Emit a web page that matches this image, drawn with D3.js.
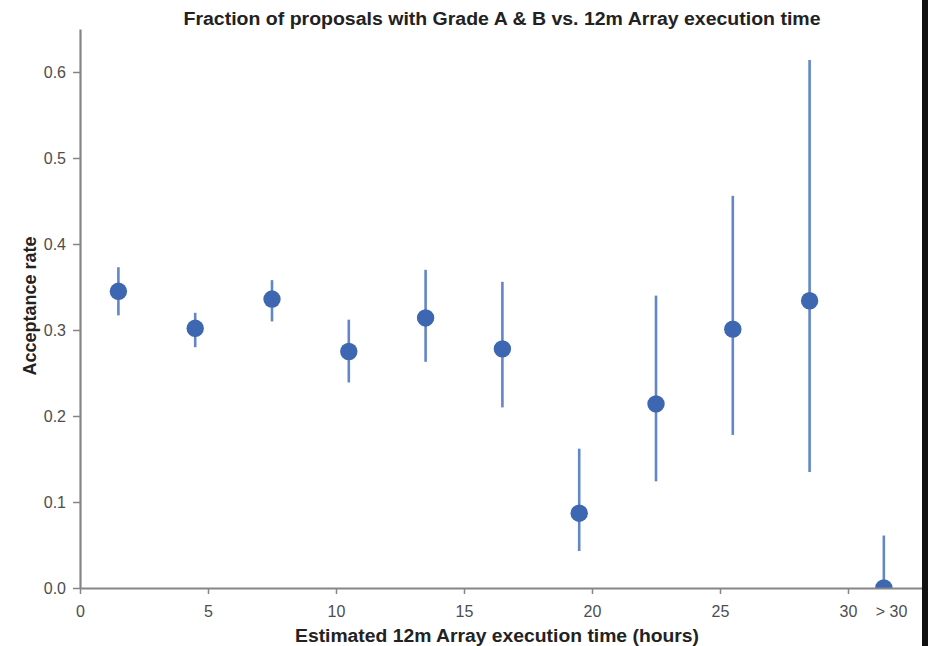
<!DOCTYPE html>
<html>
<head>
<meta charset="utf-8">
<script src="https://cdn.jsdelivr.net/npm/d3@7"></script>
<style>
  body { margin: 0; background: #fff; }
  text { font-family: "Liberation Sans", Arial, sans-serif; }
</style>
</head>
<body>
<svg id="chart" width="928" height="646"></svg>
<script>
// bins of execution time (hours); the last one is the "> 30" bin
var binCenters = [1.5, 4.5, 7.5, 10.5, 13.5, 16.5, 19.5, 22.5, 25.5, 28.5, 31.4];
var rates      = [0.345, 0.302, 0.336, 0.275, 0.314, 0.278, 0.087, 0.214, 0.301, 0.334, 0.0];
var errLow     = [0.317, 0.280, 0.310, 0.239, 0.263, 0.210, 0.043, 0.124, 0.178, 0.135, 0.0];
var errHigh    = [0.373, 0.320, 0.358, 0.312, 0.370, 0.356, 0.162, 0.340, 0.456, 0.614, 0.061];
var xTicks = [0, 5, 10, 15, 20, 25, 30];
var yTicks = [0, 0.1, 0.2, 0.3, 0.4, 0.5, 0.6];
var overflowLabel = { value: 31.7, text: "> 30" };

var svg = d3.select("#chart");
var width = +svg.attr("width"),
    height = +svg.attr("height");

var x = d3.scaleLinear().domain([0, 33]).range([80, 924.8]);
var y = d3.scaleLinear().domain([0, 0.65]).range([588, 29]);

var axisColor = "#858585",
    labelColor = "#4d4d4d",
    dotColor = "#3e67b1",
    barColor = "#6286c8";

// title
svg.append("text")
    .attr("x", 502).attr("y", 25)
    .attr("text-anchor", "middle")
    .attr("font-size", 18).attr("font-weight", "bold")
    .attr("fill", "#222")
    .attr("textLength", 637).attr("lengthAdjust", "spacingAndGlyphs")
    .text("Fraction of proposals with Grade A & B vs. 12m Array execution time");

// points get clipped at the x axis (the >30 dot is only half visible)
svg.append("clipPath").attr("id", "plotclip")
  .append("rect")
    .attr("x", x(0)).attr("y", 0)
    .attr("width", width).attr("height", y(0));

var data = binCenters.map(function(c, i) {
  return { x: c, rate: rates[i], lo: errLow[i], hi: errHigh[i] };
});

var plot = svg.append("g").attr("clip-path", "url(#plotclip)");

plot.selectAll(".err")
    .data(data)
  .enter().append("line")
    .attr("class", "err")
    .attr("x1", function(d) { return x(d.x); })
    .attr("x2", function(d) { return x(d.x); })
    .attr("y1", function(d) { return y(d.lo); })
    .attr("y2", function(d) { return y(d.hi); })
    .attr("stroke", barColor)
    .attr("stroke-width", 2.6);

plot.selectAll(".dot")
    .data(data)
  .enter().append("circle")
    .attr("class", "dot")
    .attr("cx", function(d) { return x(d.x); })
    .attr("cy", function(d) { return y(d.rate); })
    .attr("r", 8.7)
    .attr("fill", dotColor);

// axes
var xAxis = svg.append("g")
    .attr("transform", "translate(0," + y(0) + ")")
    .call(d3.axisBottom(x).tickValues(xTicks).tickSize(6).tickSizeOuter(0).tickPadding(12));

var yAxis = svg.append("g")
    .attr("transform", "translate(" + x(0) + ",0)")
    .call(d3.axisLeft(y).tickValues(yTicks).tickFormat(d3.format(".1f")).tickSize(7).tickSizeOuter(0).tickPadding(7));

[xAxis, yAxis].forEach(function(a) {
  a.select(".domain").attr("stroke", axisColor).attr("stroke-width", 2.2);
  a.selectAll(".tick line").attr("stroke", axisColor).attr("stroke-width", 1.5);
  a.selectAll(".tick text")
      .attr("fill", labelColor)
      .attr("font-size", 16)
      .attr("font-family", "'Liberation Sans', Arial, sans-serif");
});
yAxis.selectAll(".tick text").attr("dy", "0.36em");

xAxis.append("text")
    .attr("x", x(overflowLabel.value))
    .attr("y", 18)
    .attr("dy", "0.71em")
    .attr("text-anchor", "middle")
    .attr("fill", labelColor)
    .attr("font-size", 16)
    .text(overflowLabel.text);

// axis titles
svg.append("text")
    .attr("x", 497).attr("y", 642)
    .attr("text-anchor", "middle")
    .attr("font-size", 18).attr("font-weight", "bold")
    .attr("fill", "#222")
    .attr("textLength", 404).attr("lengthAdjust", "spacingAndGlyphs")
    .text("Estimated 12m Array execution time (hours)");

svg.append("text")
    .attr("transform", "translate(36,306) rotate(-90)")
    .attr("text-anchor", "middle")
    .attr("font-size", 18).attr("font-weight", "bold")
    .attr("fill", "#222")
    .text("Acceptance rate");

// dark strip on the right edge of the original image
svg.append("rect")
    .attr("x", 922).attr("y", 0)
    .attr("width", 6).attr("height", height)
    .attr("fill", "#111");
</script>
</body>
</html>
